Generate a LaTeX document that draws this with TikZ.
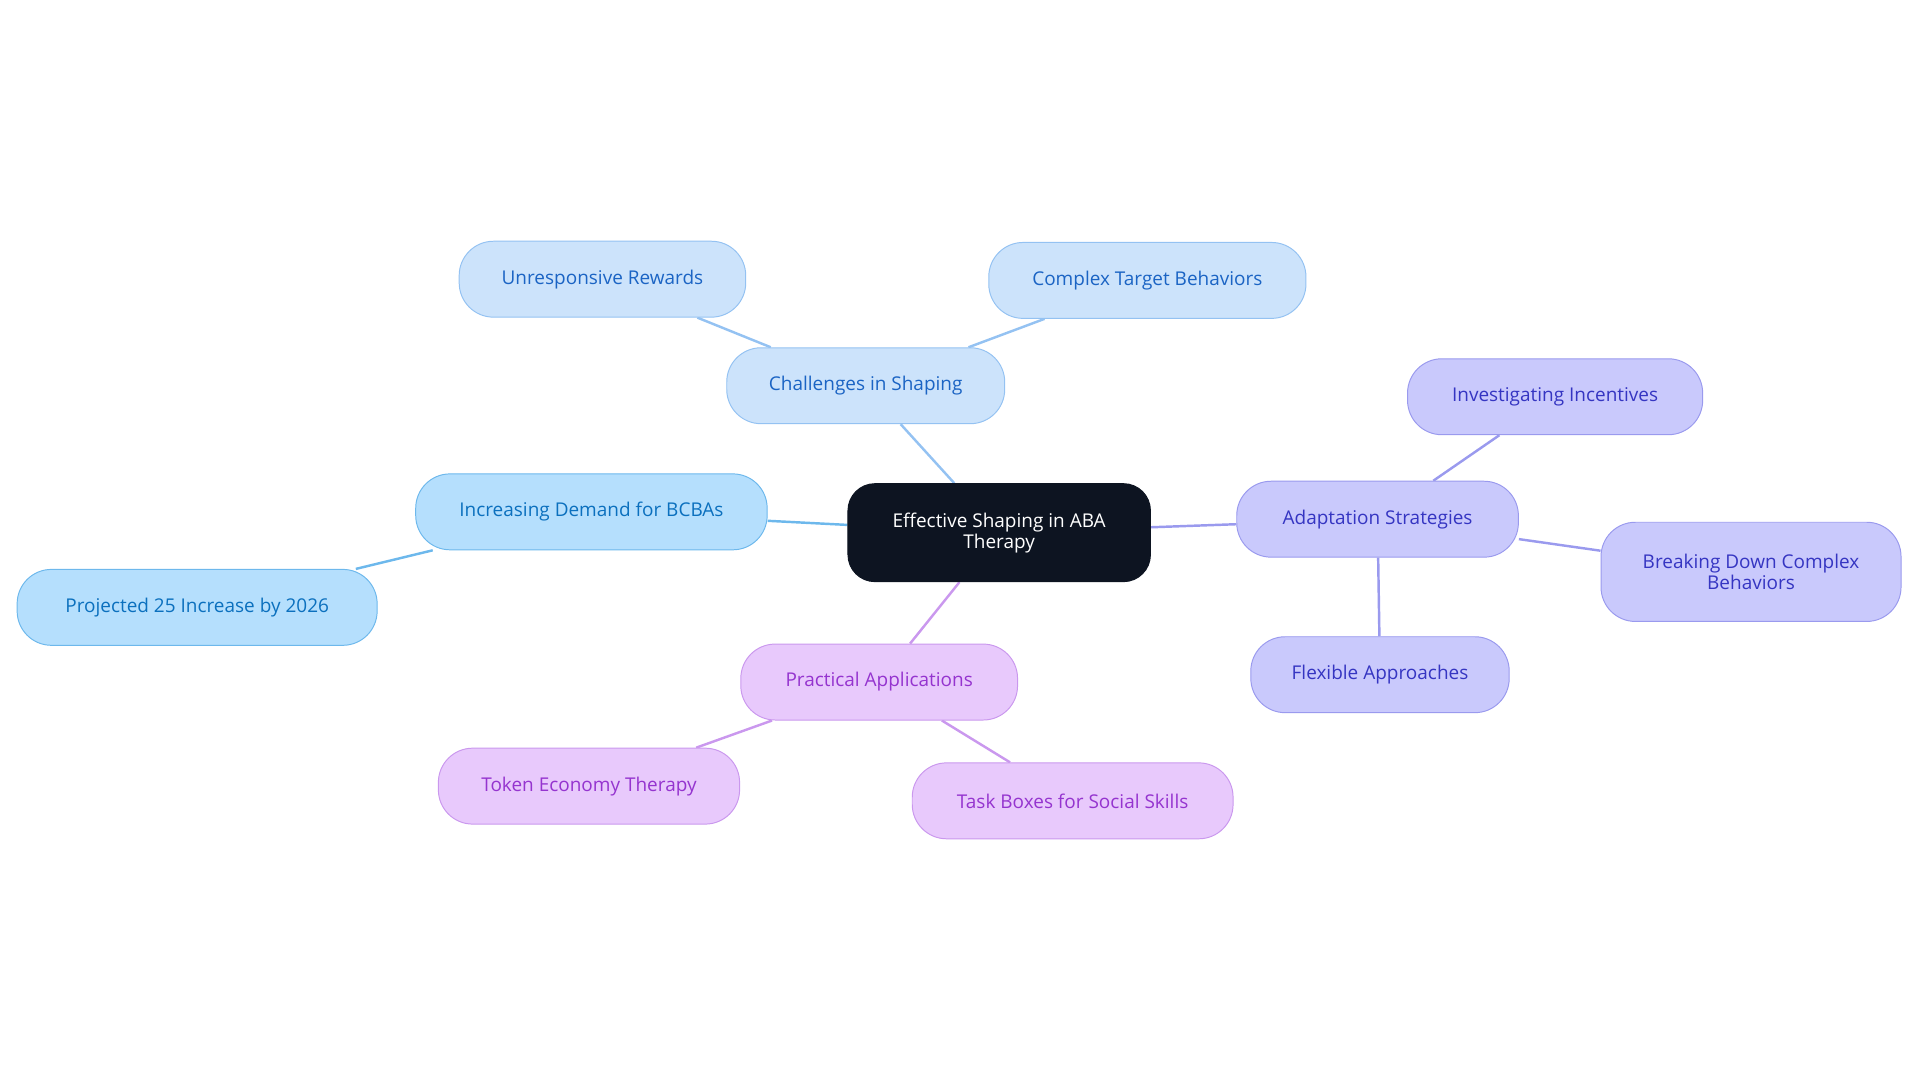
\documentclass[tikz,border=0pt]{standalone}
\usepackage{fontspec}
\setmainfont{Open Sans}
\usetikzlibrary{backgrounds}
\definecolor{bF}{HTML}{CCE3FB}\definecolor{bD}{HTML}{94C2F2}\definecolor{bT}{HTML}{1B64C4}
\definecolor{cF}{HTML}{B5DFFD}\definecolor{cD}{HTML}{6DB8EC}\definecolor{cT}{HTML}{0B70BE}
\definecolor{pF}{HTML}{E8C9FC}\definecolor{pD}{HTML}{CA98EE}\definecolor{pT}{HTML}{9534CF}
\definecolor{iF}{HTML}{C9C9FC}\definecolor{iD}{HTML}{9A9AEE}\definecolor{iT}{HTML}{3535C2}
\definecolor{dk}{HTML}{0D1421}
\tikzset{
 box/.style={rounded corners=28pt,line width=0.8pt,minimum height=62pt,align=center,font=\fontsize{15.5}{17}\selectfont,inner sep=0pt},
 bb/.style={box,fill=bF,draw=bD,text=bT},
 cb/.style={box,fill=cF,draw=cD,text=cT},
 pb/.style={box,fill=pF,draw=pD,text=pT},
 ib/.style={box,fill=iF,draw=iD,text=iT},
 ln/.style={line width=2pt},
}
\begin{document}
\begin{tikzpicture}[x=1pt,y=-1pt]
\useasboundingbox (0,0) rectangle (1568,884.5);
\node[box,fill=dk,draw=dk,text=white,minimum width=247pt,minimum height=80pt,rounded corners=22pt] (c) at (816,435) {Effective Shaping in ABA\\Therapy};
\node[bb,minimum width=227pt] (ch) at (707,315) {Challenges in Shaping};
\node[bb,minimum width=234pt] (ur) at (492,228) {Unresponsive Rewards};
\node[bb,minimum width=259pt] (ct) at (937,229) {Complex Target Behaviors};
\node[cb,minimum width=287pt] (dm) at (483,418) {Increasing Demand for BCBAs};
\node[cb,minimum width=294pt] (pr) at (161,496) {Projected 25 Increase by 2026};
\node[pb,minimum width=226pt] (pa) at (718,557) {Practical Applications};
\node[pb,minimum width=246pt] (te) at (481,642) {Token Economy Therapy};
\node[pb,minimum width=262pt] (tb) at (876,654) {Task Boxes for Social Skills};
\node[ib,minimum width=230pt] (ad) at (1125,424) {Adaptation Strategies};
\node[ib,minimum width=241pt] (iv) at (1270,324) {Investigating Incentives};
\node[ib,minimum width=245pt,minimum height=81pt] (bd) at (1430,467) {Breaking Down Complex\\Behaviors};
\node[ib,minimum width=211pt] (fx) at (1127,551) {Flexible Approaches};
\begin{scope}[on background layer]
\draw[ln,bD] (c) -- (ch); \draw[ln,bD] (ch) -- (ur); \draw[ln,bD] (ch) -- (ct);
\draw[ln,cD] (c) -- (dm); \draw[ln,cD] (dm) -- (pr);
\draw[ln,pD] (c) -- (pa); \draw[ln,pD] (pa) -- (te); \draw[ln,pD] (pa) -- (tb);
\draw[ln,iD] (c) -- (ad); \draw[ln,iD] (ad) -- (iv); \draw[ln,iD] (ad) -- (bd); \draw[ln,iD] (ad) -- (fx);
\end{scope}
\end{tikzpicture}
\end{document}
